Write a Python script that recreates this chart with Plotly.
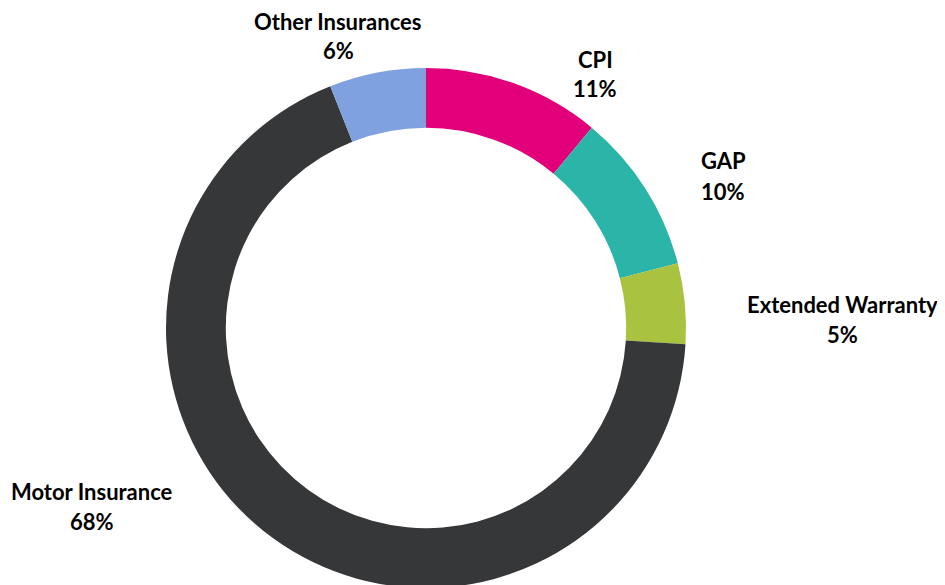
import plotly.graph_objects as go

categories = ["CPI", "GAP", "Extended Warranty", "Motor Insurance", "Other Insurances"]
values = [11, 10, 5, 68, 6]
colors = ["#E2007A", "#2BB5A8", "#A9C23F", "#363739", "#7FA1E0"]

W, H = 945, 585
# label centre positions in pixels (x, y of name line); percent line sits 30px below
label_px = {
    "CPI": (587, 51),
    "GAP": (715, 153),
    "Extended Warranty": (834, 296),
    "Motor Insurance": (84, 483),
    "Other Insurances": (330, 13),
}

cx, r, top = 418, 260, 60
fig = go.Figure(go.Pie(
    labels=categories,
    values=values,
    marker=dict(colors=colors, line=dict(width=0)),
    hole=0.77,
    sort=False,
    direction="clockwise",
    rotation=0,
    textinfo="none",
    hoverinfo="label+percent",
    domain=dict(x=[(cx - r) / W, (cx + r) / W], y=[(H - top - 2 * r) / H, (H - top) / H]),
    showlegend=False,
))

annotations = []
font = dict(family="Lato", size=22, color="#000000")
for c, v in zip(categories, values):
    px, py = label_px[c]
    for txt, yy in ((c, py), (f"{v}%", py + 30)):
        annotations.append(dict(
            x=px / W, y=1 - yy / H, xref="paper", yref="paper",
            text=f"<b>{txt}</b>",
            showarrow=False, xanchor="center", yanchor="middle",
            font=font, align="center",
        ))

fig.update_layout(
    width=W, height=H,
    margin=dict(l=0, r=0, t=0, b=0),
    paper_bgcolor="white",
    plot_bgcolor="white",
    annotations=annotations,
)

fig.write_html("out.html")
